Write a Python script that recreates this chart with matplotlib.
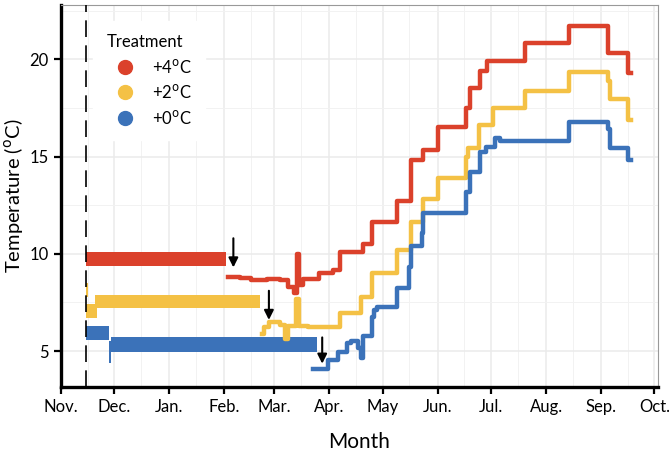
import pandas as pd
import matplotlib
matplotlib.use("Agg")
import matplotlib.pyplot as plt
from matplotlib.lines import Line2D
from matplotlib.ticker import MultipleLocator

plt.rcParams['font.family'] = ['Lato', 'DejaVu Sans']

# colours per treatment
c4 = "#DB412B"
c2 = "#F4C145"
c0 = "#3B72B9"

# dense constant periods (date from, date to, low, high)
red_band   = [("2017-11-15", "2018-02-02", 9.35, 10.1)]
yellow_band = [("2017-11-15", "2017-11-16", 7.8, 8.5),
               ("2017-11-15", "2017-11-21", 6.7, 7.4),
               ("2017-11-20", "2018-02-21", 7.22, 7.9)]
blue_band  = [("2017-11-15", "2017-11-28", 5.55, 6.3),
              ("2017-11-28", "2017-11-29", 4.4, 5.5),
              ("2017-11-29", "2018-03-25", 4.95, 5.7)]

# step series after the change (arrows)
red_dates = ['2018-02-03','2018-02-10','2018-02-16','2018-02-25','2018-03-04','2018-03-09',
             '2018-03-12','2018-03-14','2018-03-15','2018-03-17','2018-03-26','2018-04-03',
             '2018-04-07','2018-04-20','2018-04-25','2018-05-09','2018-05-17','2018-05-24',
             '2018-06-01','2018-06-17','2018-06-19','2018-06-25','2018-06-29','2018-07-20',
             '2018-08-14','2018-09-05','2018-09-16','2018-09-18']
red_temp = [8.8, 8.75, 8.65, 8.7, 8.65, 8.3, 8.0, 10.0, 8.4, 8.7, 9.0, 9.15, 10.1, 10.5,
            11.65, 12.7, 14.85, 15.35, 16.5, 17.5, 18.55, 19.4, 19.9, 20.85, 21.7, 20.35,
            19.3, 19.3]

yellow_dates = ['2018-02-22','2018-02-23','2018-02-26','2018-03-04','2018-03-07','2018-03-09',
                '2018-03-13','2018-03-15','2018-03-20','2018-04-07','2018-04-19','2018-04-25',
                '2018-05-09','2018-05-17','2018-05-24','2018-06-01','2018-06-17','2018-06-18',
                '2018-06-24','2018-07-02','2018-07-20','2018-08-14','2018-09-05','2018-09-06',
                '2018-09-16','2018-09-18']
yellow_temp = [5.9, 6.25, 6.5, 6.35, 5.6, 6.3, 7.7, 6.3, 6.25, 6.95, 7.8, 9.0, 10.2, 11.65,
               12.8, 13.9, 15.0, 15.45, 16.65, 17.5, 18.4, 19.35, 18.9, 17.95, 16.9, 16.9]

blue_dates = ['2018-03-23','2018-03-29','2018-03-31','2018-04-06','2018-04-11','2018-04-13',
              '2018-04-17','2018-04-19','2018-04-20','2018-04-25','2018-04-26','2018-04-28',
              '2018-05-09','2018-05-16','2018-05-17','2018-05-23','2018-05-24','2018-06-17',
              '2018-06-19','2018-06-25','2018-06-28','2018-07-03','2018-07-06','2018-08-14',
              '2018-09-05','2018-09-06','2018-09-16','2018-09-18']
blue_temp = [4.08, 4.08, 4.55, 4.95, 5.4, 5.5, 5.15, 4.65, 5.75, 6.75, 7.1, 7.25, 8.25, 9.3,
             10.4, 11.05, 12.1, 13.2, 14.2, 15.25, 15.5, 15.95, 15.8, 16.8, 16.4, 15.45,
             14.85, 14.85]

# arrows: date, tail, tip
arrows = [("2018-02-06", 10.8, 9.3), ("2018-02-26", 8.1, 6.6), ("2018-03-28", 5.7, 4.35)]
start_date = "2017-11-15"

month_ticks = pd.date_range("2017-11-01", "2018-10-01", freq="MS")
month_labels = ["Nov.", "Dec.", "Jan.", "Feb.", "Mar.", "Apr.", "May", "Jun.",
                "Jul.", "Aug.", "Sep.", "Oct."]

fig = plt.figure(figsize=(6.69, 4.53), dpi=100)
ax = fig.add_axes([0.0912, 0.1457, 0.8924, 0.8433])

for bands, col in [(red_band, c4), (yellow_band, c2), (blue_band, c0)]:
    for d0, d1, lo, hi in bands:
        ax.fill_between(pd.to_datetime([d0, d1]), lo, hi, color=col, lw=0, zorder=3)

for d, t, col in [(red_dates, red_temp, c4), (yellow_dates, yellow_temp, c2),
                  (blue_dates, blue_temp, c0)]:
    ax.step(pd.to_datetime(d), t, where="post", color=col, lw=3.2, zorder=3)

for d, tail, tip in arrows:
    ax.annotate("", xy=(pd.Timestamp(d), tip), xytext=(pd.Timestamp(d), tail),
                arrowprops=dict(arrowstyle="-|>", color="black", lw=1.5,
                                mutation_scale=14, shrinkA=0, shrinkB=0), zorder=5)

ax.axvline(pd.Timestamp(start_date), color="black", lw=1.2, ls=(0, (10, 5)), zorder=4)

ax.set_xlim(pd.Timestamp("2017-11-01"), pd.Timestamp("2018-10-03"))
ax.set_ylim(3.15, 22.8)
ax.set_xticks(month_ticks)
ax.set_xticklabels(month_labels)
mids = month_ticks[:-1] + pd.Timedelta(days=15)
ax.set_xticks(mids, minor=True)
ax.set_yticks([5, 10, 15, 20])
ax.yaxis.set_minor_locator(MultipleLocator(2.5))

ax.grid(True, which="major", color="#ebebeb", lw=1.1, zorder=0)
ax.grid(True, which="minor", color="#f2f2f2", lw=0.7, zorder=0)
ax.set_axisbelow(True)
ax.tick_params(which="minor", length=0)
ax.tick_params(which="major", direction="out", length=5, width=1.6, color="black",
               labelsize=12, labelcolor="black", pad=4)

for s in ["left", "bottom"]:
    ax.spines[s].set_linewidth(2.4)
    ax.spines[s].set_color("black")
for s in ["top", "right"]:
    ax.spines[s].set_linewidth(0.8)
    ax.spines[s].set_color("#999999")

ax.set_xlabel("Month", fontsize=15, labelpad=12)
ax.set_ylabel(r"Temperature ($^{\mathrm{o}}$C)", fontsize=14.5)
ax.yaxis.set_label_coords(-0.06, 0.5)

handles = [Line2D([], [], marker="o", ls="", color=c, markersize=10) for c in (c4, c2, c0)]
leg = ax.legend(handles, [r"+4$^{\mathrm{o}}$C", r"+2$^{\mathrm{o}}$C", r"+0$^{\mathrm{o}}$C"],
                title="Treatment", loc="upper left", bbox_to_anchor=(0.04, 0.98),
                frameon=True, fontsize=12, title_fontsize=12, handletextpad=0.5,
                labelspacing=0.45, borderpad=0.8, handlelength=2.2)
leg._legend_box.align = "left"
leg.get_frame().set_edgecolor("white")
leg.get_frame().set_facecolor("white")
leg.get_frame().set_alpha(1)
leg.set_zorder(6)

fig.savefig("out.png", dpi=100)
